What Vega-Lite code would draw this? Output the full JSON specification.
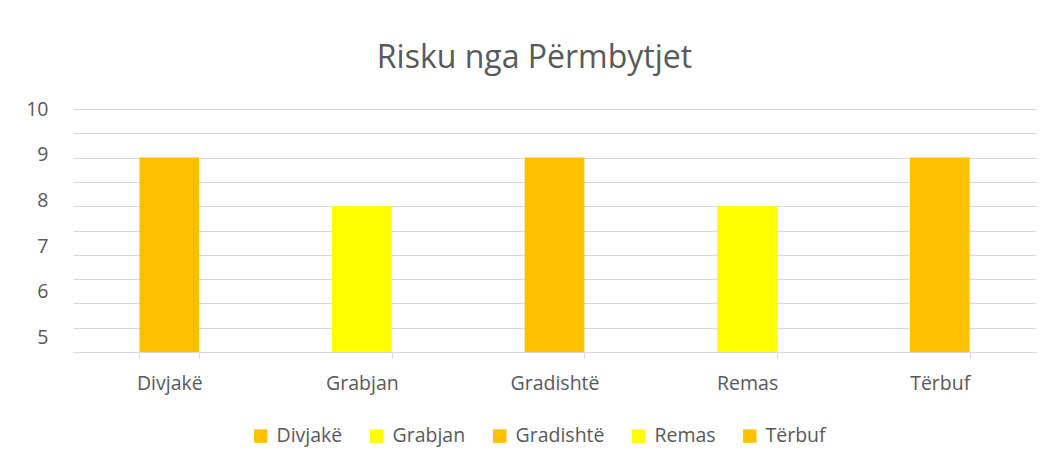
{
  "$schema": "https://vega.github.io/schema/vega-lite/v6.json",
  "width": 963,
  "height": 243,
  "autosize": "none",
  "padding": {"left": 73, "top": 109, "right": 12, "bottom": 116},
  "background": "white",
  "title": {
    "text": "Risku nga Përmbytjet",
    "font": "Open Sans",
    "fontSize": 32,
    "fontWeight": "normal",
    "color": "#595959",
    "offset": 24,
    "dx": -20
  },
  "data": {
    "values": [
      {"Fshati": "Divjakë", "Risku": 9},
      {"Fshati": "Grabjan", "Risku": 8},
      {"Fshati": "Gradishtë", "Risku": 9},
      {"Fshati": "Remas", "Risku": 8},
      {"Fshati": "Tërbuf", "Risku": 9}
    ]
  },
  "mark": {"type": "bar"},
  "encoding": {
    "x": {
      "field": "Fshati",
      "type": "nominal",
      "sort": null,
      "scale": {"paddingInner": 0.69, "paddingOuter": 0.345},
      "axis": {
        "title": null,
        "labelAngle": 0,
        "tickBand": "extent",
        "domainColor": "#d9d9d9",
        "tickColor": "#d9d9d9",
        "tickSize": 6,
        "labelPadding": 16,
        "labelFont": "Open Sans",
        "labelFontSize": 19.5,
        "labelColor": "#595959"
      }
    },
    "y": {
      "field": "Risku",
      "type": "quantitative",
      "scale": {"domain": [5, 10], "zero": false, "nice": false},
      "axis": {
        "title": null,
        "values": [5, 5.5, 6, 6.5, 7, 7.5, 8, 8.5, 9, 9.5, 10],
        "labelExpr": "datum.value % 1 == 0 ? format(datum.value, 'd') : ''",
        "labelOffset": {"expr": "(datum.value - 10) * 2.9"},
        "grid": true,
        "gridColor": "#d9d9d9",
        "domain": false,
        "ticks": false,
        "labelPadding": 25,
        "labelFont": "Open Sans",
        "labelFontSize": 19.5,
        "labelColor": "#595959"
      }
    },
    "y2": {"datum": 5},
    "color": {
      "field": "Fshati",
      "type": "nominal",
      "sort": null,
      "scale": {
        "domain": ["Divjakë", "Grabjan", "Gradishtë", "Remas", "Tërbuf"],
        "range": ["#FFC000", "#FFFF00", "#FFC000", "#FFFF00", "#FFC000"]
      },
      "legend": {
        "title": null,
        "orient": "none",
        "legendX": 178,
        "legendY": 317,
        "direction": "horizontal",
        "symbolType": "square",
        "symbolSize": 180,
        "symbolStrokeWidth": 0,
        "labelFont": "Open Sans",
        "labelFontSize": 19.5,
        "labelColor": "#595959",
        "labelOffset": 6,
        "columnPadding": 24
      }
    }
  },
  "config": {"view": {"stroke": null}}
}
